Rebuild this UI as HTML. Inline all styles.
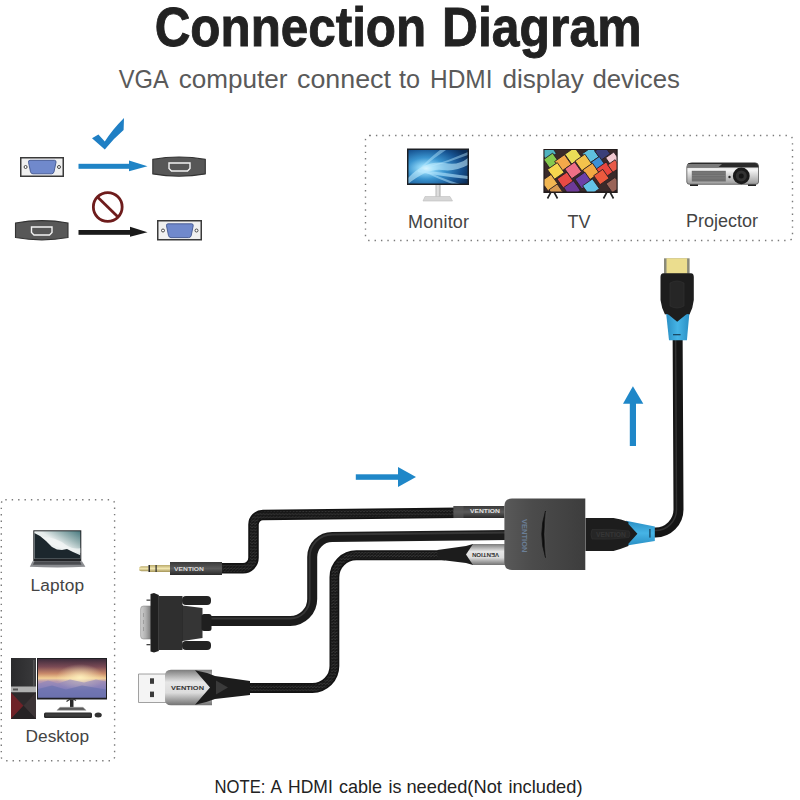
<!DOCTYPE html>
<html><head><meta charset="utf-8">
<style>
html,body{margin:0;padding:0;background:#fff;width:800px;height:800px;overflow:hidden}
svg{position:absolute;left:0;top:0;display:block}
text{font-family:"Liberation Sans",sans-serif}
</style></head>
<body>
<svg width="800" height="800" viewBox="0 0 800 800">
<defs>
  <linearGradient id="silver" x1="0" y1="0" x2="0" y2="1">
    <stop offset="0" stop-color="#8f8f8f"/><stop offset="0.3" stop-color="#d9d9d9"/><stop offset="0.7" stop-color="#c4c4c4"/><stop offset="1" stop-color="#7d7d7d"/>
  </linearGradient>
  <linearGradient id="gold" x1="0" y1="0" x2="0" y2="1">
    <stop offset="0" stop-color="#b9a96a"/><stop offset="0.5" stop-color="#f1e6b0"/><stop offset="1" stop-color="#a39356"/>
  </linearGradient>
</defs>
<rect width="800" height="800" fill="#fff"/>

<!-- Title -->
<g font-size="55" font-weight="bold" fill="#222" stroke="#222" stroke-width="0.9"><text x="154.7" y="46" textLength="271.5" lengthAdjust="spacingAndGlyphs">Connection</text><text x="442" y="46" textLength="199.5" lengthAdjust="spacingAndGlyphs">Diagram</text></g>
<g font-size="26" fill="#5a5a5a"><text x="118.75" y="87.5" textLength="50.00" lengthAdjust="spacingAndGlyphs">VGA</text><text x="178.75" y="87.5" textLength="108.75" lengthAdjust="spacingAndGlyphs">computer</text><text x="297.00" y="87.5" textLength="94.00" lengthAdjust="spacingAndGlyphs">connect</text><text x="399.00" y="87.5" textLength="21.00" lengthAdjust="spacingAndGlyphs">to</text><text x="430.00" y="87.5" textLength="62.50" lengthAdjust="spacingAndGlyphs">HDMI</text><text x="502.50" y="87.5" textLength="81.25" lengthAdjust="spacingAndGlyphs">display</text><text x="592.40" y="87.5" textLength="87.50" lengthAdjust="spacingAndGlyphs">devices</text></g>

<!-- Compatibility icons -->
<g id="compat">
  <!-- VGA top-left -->
  <rect x="20.75" y="157.75" width="42.5" height="18.5" fill="#f0f0f0" stroke="#3a3a3a" stroke-width="1.5"/>
  <path d="M30 160.3 H54.5 Q56.3 160.3 56 162.3 L54 171.8 Q53.5 173.8 51.5 173.8 H33 Q31 173.8 30.5 171.8 L28.5 162.3 Q28.2 160.3 30 160.3 Z" fill="#7089cc" stroke="#40558f" stroke-width="0.9"/>
  <circle cx="25.6" cy="167" r="1.5" fill="#fff" stroke="#333" stroke-width="0.9"/>
  <circle cx="59" cy="167" r="1.5" fill="#fff" stroke="#333" stroke-width="0.9"/>
  <!-- blue arrow -->
  <rect x="78.5" y="163.8" width="52" height="5" fill="#1f84c6"/>
  <path d="M129 160.6 L147.5 166.3 L129 171.3 Z" fill="#1f84c6"/>
  <!-- check -->
  <path d="M92 138.2 L98.4 134.4 L104.8 141.6 Q112 130 124 118 L123.6 130 Q113 139 104.8 149.5 Z" fill="#1f7fc4"/>
  <!-- HDMI top-right -->
  <path d="M152.8 159.4 Q179 154.6 205.3 159.4 V173.9 Q179 178.6 152.8 173.9 Z" fill="#575757" stroke="#333" stroke-width="1.1"/>
  <path d="M169 163 H190 V168.5 L187.5 171 H171.5 L169 168.5 Z" fill="none" stroke="#f3f3f3" stroke-width="1.4"/>

  <!-- no sign -->
  <circle cx="107.75" cy="207" r="14.4" fill="none" stroke="#6e1c1c" stroke-width="2.8"/>
  <line x1="97.5" y1="197" x2="118" y2="217" stroke="#6e1c1c" stroke-width="2.8"/>
  <!-- HDMI bottom-left -->
  <path d="M15.5 223 Q42 218.2 68 223 V237.5 Q42 242.2 15.5 237.5 Z" fill="#575757" stroke="#333" stroke-width="1.1"/>
  <path d="M31.5 227 H52 V232.5 L49.5 235 H34 L31.5 232.5 Z" fill="none" stroke="#f3f3f3" stroke-width="1.4"/>
  <!-- black arrow -->
  <rect x="78.5" y="230" width="53" height="4.8" fill="#1a1a1a"/>
  <path d="M130 226.8 L147.5 232.3 L130 236.8 Z" fill="#1a1a1a"/>
  <!-- VGA bottom-right -->
  <rect x="157.75" y="220.75" width="43.5" height="19" fill="#f0f0f0" stroke="#3a3a3a" stroke-width="1.5"/>
  <path d="M168 223.8 H191.7 Q193.5 223.8 193.2 225.8 L191.2 235.6 Q190.7 237.6 188.7 237.6 H171 Q169 237.6 168.5 235.6 L166.5 225.8 Q166.2 223.8 168 223.8 Z" fill="#7089cc" stroke="#40558f" stroke-width="0.9"/>
  <circle cx="163" cy="230.5" r="1.5" fill="#fff" stroke="#333" stroke-width="0.9"/>
  <circle cx="196.5" cy="230.5" r="1.5" fill="#fff" stroke="#333" stroke-width="0.9"/>
</g>

<!-- Devices dotted box -->
<rect x="365.5" y="135.5" width="427" height="105" rx="4" fill="none" stroke="#7a7a7a" stroke-width="1.4" stroke-dasharray="1.4 5"/>
<text x="408" y="227.6" font-size="18" fill="#444" textLength="61" lengthAdjust="spacing">Monitor</text>
<text x="567.5" y="228.2" font-size="18" fill="#444">TV</text>
<text x="686" y="226.6" font-size="18" fill="#444">Projector</text>

<!-- Computers dotted box -->
<rect x="1.3" y="499.75" width="113.3" height="261" rx="4" fill="none" stroke="#7a7a7a" stroke-width="1.4" stroke-dasharray="1.4 5"/>
<text x="30.5" y="591" font-size="17.3" fill="#444" textLength="53.5" lengthAdjust="spacing">Laptop</text>
<text x="25.6" y="741.5" font-size="17.3" fill="#444" textLength="63.5" lengthAdjust="spacing">Desktop</text>


<!-- Monitor -->
<defs>
  <radialGradient id="monscr" cx="0.3" cy="0.55" r="0.8">
    <stop offset="0" stop-color="#e6f7ff"/><stop offset="0.15" stop-color="#8fd6f7"/><stop offset="0.4" stop-color="#3a94cf"/><stop offset="0.75" stop-color="#165290"/><stop offset="1" stop-color="#0b2d58"/>
  </radialGradient>
  <clipPath id="monclip"><rect x="408.5" y="150" width="59" height="33.5"/></clipPath>
  <linearGradient id="standg" x1="0" y1="0" x2="1" y2="0"><stop offset="0" stop-color="#b8b8b8"/><stop offset="0.5" stop-color="#e8e8e8"/><stop offset="1" stop-color="#a8a8a8"/></linearGradient>
</defs>
<rect x="435.5" y="185" width="5" height="12" fill="url(#standg)"/>
<path d="M423 201 L425 196.5 H450 L452.5 201 Z" fill="#d6d6d6" stroke="#bdbdbd" stroke-width="0.6"/>
<rect x="407" y="148.5" width="62" height="36.5" fill="#1c1f24"/>
<rect x="408.5" y="150" width="59" height="33.5" fill="url(#monscr)"/>
<g clip-path="url(#monclip)">
  <path d="M408 178 Q425 160 445 163 Q458 166 468 158 V165 Q455 172 442 170 Q428 168 408 184 Z" fill="#c8f0ff" opacity="0.55"/>
  <path d="M418 170 Q440 172 468 176 V179 Q440 176 418 172 Z" fill="#b8e8ff" opacity="0.6"/>
  <path d="M420 168 Q440 178 460 184 H452 Q436 178 420 170 Z" fill="#b8e8ff" opacity="0.5"/>
  <path d="M422 166 Q432 156 440 150 H446 Q434 158 423 167 Z" fill="#b8e8ff" opacity="0.45"/>
  <path d="M430 166 Q450 160 468 152 V155 Q450 162 430 167 Z" fill="#b8e8ff" opacity="0.45"/>
</g>

<!-- TV -->
<defs><clipPath id="tvclip"><rect x="544.5" y="150" width="72" height="41.5"/></clipPath></defs>
<path d="M551 192 L547.5 198.5 M554 192 L557.5 198.5 M607 192 L603.5 198.5 M610 192 L613.5 198.5" stroke="#222" stroke-width="1.6"/>
<rect x="543.4" y="149" width="74.3" height="44" fill="#231c1c"/>
<g clip-path="url(#tvclip)">
  <rect x="544.5" y="150" width="72" height="41.5" fill="#3a2a2a"/>
  <g><rect x="-6.0" y="-6.0" width="12" height="12" fill="#4fb3bf" transform="translate(548 152) rotate(-35)" stroke="#2a1f22" stroke-width="0.8"/><rect x="-5.5" y="-5.5" width="11" height="11" fill="#86c94e" transform="translate(551.3 160.8) rotate(-35)" stroke="#2a1f22" stroke-width="0.8"/><rect x="-6.0" y="-6.0" width="12" height="12" fill="#e9dd57" transform="translate(573.2 155.75) rotate(-35)" stroke="#2a1f22" stroke-width="0.8"/><rect x="-6.0" y="-6.0" width="12" height="12" fill="#5fc0df" transform="translate(590.7 155.2) rotate(-35)" stroke="#2a1f22" stroke-width="0.8"/><rect x="-5.5" y="-5.5" width="11" height="11" fill="#3a3f78" transform="translate(602.5 152.5) rotate(-35)" stroke="#2a1f22" stroke-width="0.8"/><rect x="-5.0" y="-5.0" width="10" height="10" fill="#f2c9d0" transform="translate(612.6 159) rotate(-35)" stroke="#2a1f22" stroke-width="0.8"/><rect x="-6.0" y="-6.0" width="12" height="12" fill="#f3c24c" transform="translate(583.4 162.5) rotate(-35)" stroke="#2a1f22" stroke-width="0.8"/><rect x="-6.0" y="-6.0" width="12" height="12" fill="#f4a84a" transform="translate(563 163) rotate(-35)" stroke="#2a1f22" stroke-width="0.8"/><rect x="-5.0" y="-5.0" width="10" height="10" fill="#3d8fd6" transform="translate(598 163.5) rotate(-35)" stroke="#2a1f22" stroke-width="0.8"/><rect x="-6.0" y="-6.0" width="12" height="12" fill="#f6d64e" transform="translate(555.8 171) rotate(-35)" stroke="#2a1f22" stroke-width="0.8"/><rect x="-6.0" y="-6.0" width="12" height="12" fill="#ee6f86" transform="translate(573.2 170.4) rotate(-35)" stroke="#2a1f22" stroke-width="0.8"/><rect x="-6.0" y="-6.0" width="12" height="12" fill="#f2a843" transform="translate(591 171.5) rotate(-35)" stroke="#2a1f22" stroke-width="0.8"/><rect x="-6.0" y="-6.0" width="12" height="12" fill="#e8473f" transform="translate(604.7 170.4) rotate(-35)" stroke="#2a1f22" stroke-width="0.8"/><rect x="-4.5" y="-4.5" width="9" height="9" fill="#e85a48" transform="translate(614 166) rotate(-35)" stroke="#2a1f22" stroke-width="0.8"/><rect x="-6.0" y="-6.0" width="12" height="12" fill="#f1b652" transform="translate(549.6 182.75) rotate(-35)" stroke="#2a1f22" stroke-width="0.8"/><rect x="-6.0" y="-6.0" width="12" height="12" fill="#e84a45" transform="translate(565.4 180.5) rotate(-35)" stroke="#2a1f22" stroke-width="0.8"/><rect x="-6.0" y="-6.0" width="12" height="12" fill="#6b40a8" transform="translate(583.4 180.5) rotate(-35)" stroke="#2a1f22" stroke-width="0.8"/><rect x="-5.5" y="-5.5" width="11" height="11" fill="#ec5a3e" transform="translate(601.4 177) rotate(-35)" stroke="#2a1f22" stroke-width="0.8"/><rect x="-6.0" y="-6.0" width="12" height="12" fill="#63c3e8" transform="translate(591 187.25) rotate(-35)" stroke="#2a1f22" stroke-width="0.8"/><rect x="-6.0" y="-6.0" width="12" height="12" fill="#6d3a98" transform="translate(572 189) rotate(-35)" stroke="#2a1f22" stroke-width="0.8"/><rect x="-5.5" y="-5.5" width="11" height="11" fill="#9a6458" transform="translate(613.7 185) rotate(-35)" stroke="#2a1f22" stroke-width="0.8"/><rect x="-5.0" y="-5.0" width="10" height="10" fill="#d79a52" transform="translate(556 191) rotate(-35)" stroke="#2a1f22" stroke-width="0.8"/></g>
</g>

<!-- Projector -->
<defs>
  <linearGradient id="projf" x1="0" y1="0" x2="0" y2="1"><stop offset="0" stop-color="#c9c9c9"/><stop offset="0.35" stop-color="#f4f4f4"/><stop offset="1" stop-color="#9a9a9a"/></linearGradient>
</defs>
<rect x="690" y="182.5" width="8" height="3.5" fill="#222"/>
<rect x="748" y="182.5" width="8" height="3.5" fill="#222"/>
<path d="M689 164.5 Q689 162.8 692 162.8 H755 Q758.5 162.8 758.5 166 V182 Q758.5 184.3 755.5 184.3 H690 Q686.8 184.3 686.8 182 V167 Q686.8 164.5 689 164.5 Z" fill="url(#projf)" stroke="#555" stroke-width="0.8"/>
<path d="M689 163 H755 Q758.5 163 758.5 167.5 H687 Q687 163 689 163 Z" fill="#2a2a2a"/>
<path d="M687 167.5 H718 L722 164 H687 Z" fill="#7a7a7a"/>
<rect x="691.8" y="170.8" width="34" height="10.7" fill="#6f6f6f"/>
<g stroke="#8a8a8a" stroke-width="0.5"><line x1="692" y1="173" x2="725.6" y2="173"/><line x1="692" y1="175.5" x2="725.6" y2="175.5"/><line x1="692" y1="178" x2="725.6" y2="178"/></g>
<circle cx="729.5" cy="177" r="1.2" fill="#222"/>
<circle cx="741.3" cy="175.9" r="8.4" fill="#1a1a1a"/>
<circle cx="741.3" cy="175.9" r="5.5" fill="#333"/>
<circle cx="741.3" cy="175.9" r="2.5" fill="#151515"/>

<!-- Laptop -->
<defs>
  <linearGradient id="lapsky" x1="1" y1="0" x2="0.2" y2="0.8"><stop offset="0" stop-color="#4a7a80"/><stop offset="0.3" stop-color="#9bb5b6"/><stop offset="0.55" stop-color="#e6ecec"/><stop offset="1" stop-color="#f4f6f6"/></linearGradient>
  <clipPath id="lapclip"><rect x="34.3" y="531.3" width="46" height="27.5"/></clipPath>
</defs>
<rect x="33.3" y="530.3" width="48" height="31" fill="#222427"/>
<rect x="34.3" y="531.3" width="46" height="27.5" fill="url(#lapsky)"/>
<g clip-path="url(#lapclip)">
  <path d="M40 537 Q55 536 66 545 Q74 550 81 548 V553 Q70 552 60 548 Q50 544 40 540 Z" fill="#f4f6f6" opacity="0.7"/>
  <path d="M34.3 533 L40 536 L46 541 L52 547 L57 549.5 L62 550 L67 549 L73 552 L81 555.5 V559 H34.3 Z" fill="#1c272d"/>
</g>
<path d="M29.8 566.8 L32.5 561.2 H82 L85.4 566.8 Q57.5 568 29.8 566.8 Z" fill="#8a8c90"/>
<path d="M34.5 561.2 H80 L81.5 564.8 H33 Z" fill="#4a4c50"/>

<!-- Desktop -->
<defs>
  <linearGradient id="dsky" x1="0" y1="0" x2="0" y2="1"><stop offset="0" stop-color="#3e2c3c"/><stop offset="0.2" stop-color="#7a4a55"/><stop offset="0.38" stop-color="#c98a6a"/><stop offset="0.5" stop-color="#f2cf95"/><stop offset="0.58" stop-color="#b99aae"/><stop offset="0.78" stop-color="#7d7ab6"/><stop offset="1" stop-color="#5c64a4"/></linearGradient>
  <radialGradient id="dglow" cx="0.62" cy="0.48" r="0.35"><stop offset="0" stop-color="#fff2c0" stop-opacity="0.9"/><stop offset="1" stop-color="#fff2c0" stop-opacity="0"/></radialGradient>
  <linearGradient id="tower" x1="0" y1="0" x2="1" y2="0"><stop offset="0" stop-color="#2a2a2c"/><stop offset="1" stop-color="#3a3a3c"/></linearGradient>
</defs>
<rect x="11" y="658" width="25" height="61" fill="url(#tower)"/>
<rect x="33.5" y="660" width="0.8" height="26" fill="#666"/>
<rect x="11" y="686.5" width="25" height="6" fill="#b0b0b0"/>
<rect x="13" y="688.5" width="5" height="2" fill="#555"/>
<path d="M11 692.5 H36 V719 H11 Z" fill="#2e2a2c"/>
<path d="M11 692.5 L23.5 705.8 L11 719 Z" fill="#6e2228"/>
<path d="M36 692.5 L23.5 705.8 L36 719 Z" fill="#3c3436"/>
<path d="M11 719 L23.5 705.8 L36 719 Z" fill="#262224"/>
<rect x="37" y="658" width="70" height="41.5" fill="#1f1f22"/>
<rect x="38" y="659" width="68" height="38.5" fill="url(#dsky)"/>
<rect x="38" y="659" width="68" height="38.5" fill="url(#dglow)"/>
<path d="M38 684 L48 680.5 L58 683.5 L70 679.5 L84 682.5 L96 679.5 L106 681.5 V697.5 H38 Z" fill="#8a84bd" opacity="0.55"/>
<path d="M38 689 L52 685.5 L66 689.5 L82 685.5 L106 689.5 V697.5 H38 Z" fill="#6670ac" opacity="0.6"/>
<path d="M70 699.5 H73.5 V707.5 H70 Z" fill="#2a2a2a"/>
<path d="M66.5 701.5 Q71.5 697.5 76 700.5" fill="none" stroke="#3a3a3a" stroke-width="1.2"/>
<path d="M57 710.3 L60 707.3 H83 L86 710.3 Z" fill="#5a5a5a" stroke="#a0a0a0" stroke-width="0.6"/>
<rect x="44" y="712.5" width="48" height="5.5" rx="1.5" fill="#2a2a2a"/>
<rect x="45.5" y="713.5" width="45" height="3" fill="#3c3c3c"/>
<ellipse cx="98.2" cy="715" rx="3.6" ry="2.5" fill="#333"/>


<!-- Blue arrows -->
<rect x="355.8" y="474.3" width="43" height="5.5" fill="#1f87c8"/>
<path d="M398 466.9 L416 477 L398 487.1 Z" fill="#1f87c8"/>
<rect x="629.8" y="402" width="6.2" height="44" fill="#1f87c8"/>
<path d="M623 403.8 L632.9 386.3 L643.3 403.8 Z" fill="#1f87c8"/>

<!-- Cables -->
<defs>
  <pattern id="braid" width="3.2" height="3.2" patternUnits="userSpaceOnUse">
    <rect width="3.2" height="3.2" fill="#171717"/>
    <path d="M0.4 2.4 L1.6 1.2 M2 3.2 L3.2 2" stroke="#545454" stroke-width="0.8" fill="none"/>
  </pattern>
  <linearGradient id="hsil" x1="0" y1="0" x2="0" y2="1"><stop offset="0" stop-color="#7c7c7c"/><stop offset="0.35" stop-color="#e6e6e6"/><stop offset="0.65" stop-color="#dcdcdc"/><stop offset="1" stop-color="#727272"/></linearGradient>
  <linearGradient id="ferr" x1="0" y1="0" x2="0" y2="1"><stop offset="0" stop-color="#3a3a3a"/><stop offset="0.5" stop-color="#5a5a5a"/><stop offset="1" stop-color="#2a2a2a"/></linearGradient>
  <linearGradient id="boxg" x1="0" y1="0" x2="1" y2="0"><stop offset="0" stop-color="#595959"/><stop offset="0.35" stop-color="#4b4b4b"/><stop offset="1" stop-color="#3d3d3d"/></linearGradient>
  <linearGradient id="blueg" x1="0" y1="0" x2="1" y2="0"><stop offset="0" stop-color="#2a8fc4"/><stop offset="0.5" stop-color="#46b4e6"/><stop offset="1" stop-color="#2a8fc4"/></linearGradient>
  <linearGradient id="blueh" x1="0" y1="0" x2="0" y2="1"><stop offset="0" stop-color="#2a8fc4"/><stop offset="0.5" stop-color="#46b4e6"/><stop offset="1" stop-color="#2a8fc4"/></linearGradient>
</defs>

<!-- HDMI cable -->
<path d="M650 532.5 H655.5 A23 23 0 0 0 678.5 509.5 L677.6 330" fill="none" stroke="#151515" stroke-width="10"/>
<path d="M650 530.5 H655.5 A21 21 0 0 0 676.5 509.5 L675.6 330" fill="none" stroke="#3d3d3d" stroke-width="1.5" opacity="0.7"/>

<!-- Audio cable -->
<path id="pAud" d="M218 568.3 H243 A10.5 10.5 0 0 0 253.5 557.8 V524.5 A9.5 9.5 0 0 1 263 515 L458 512.8" fill="none" stroke="#131313" stroke-width="10.5"/>
<path d="M218 568.3 H243 A10.5 10.5 0 0 0 253.5 557.8 V524.5 A9.5 9.5 0 0 1 263 515 L458 512.8" fill="none" stroke="url(#braid)" stroke-width="7"/>

<!-- VGA cable -->
<path d="M205 621 H290.2 A22 22 0 0 0 312.2 599 V557 A20 20 0 0 1 332.2 537 L508 535" fill="none" stroke="#1b1b1b" stroke-width="10"/>
<path d="M205 618.5 H290.2 A19.5 19.5 0 0 0 309.7 599 V557 A22.5 22.5 0 0 1 332.2 534.5 L508 532.5" fill="none" stroke="#3d3d3d" stroke-width="1.8" opacity="0.8"/>

<!-- USB cable -->
<path d="M245 688 H312.4 A22 22 0 0 0 334.4 666 V577.25 A22 22 0 0 1 356.4 555.25 H445" fill="none" stroke="#131313" stroke-width="9.8"/>
<path d="M245 688 H312.4 A22 22 0 0 0 334.4 666 V577.25 A22 22 0 0 1 356.4 555.25 H445" fill="none" stroke="url(#braid)" stroke-width="6.5"/>

<!-- Audio jack -->
<path d="M148.8 566.2 H141.5 Q139 566.2 139 568.7 Q139 571.2 141.5 571.2 H148.8 Z" fill="url(#gold)"/>
<rect x="148.8" y="565" width="21.5" height="7" fill="url(#gold)"/>
<rect x="148.5" y="565" width="1.5" height="7" fill="#2a2a2a"/>
<rect x="155.5" y="565" width="1.2" height="7" fill="#2a2a2a"/>
<rect x="170" y="562" width="52" height="13" fill="url(#ferr)"/>
<text x="174" y="570.6" font-size="6" font-weight="bold" fill="#d8d8d8" textLength="30" lengthAdjust="spacingAndGlyphs">VENTION</text>

<!-- VGA connector -->
<defs>
  <linearGradient id="shell" x1="0" y1="0" x2="1" y2="0"><stop offset="0" stop-color="#d0d0d0"/><stop offset="0.5" stop-color="#b0b0b0"/><stop offset="1" stop-color="#7a7a7a"/></linearGradient>
</defs>
<path d="M143.5 606 H151 V639 H143.5 Q140.6 639 140.6 636 V609 Q140.6 606 143.5 606 Z" fill="url(#shell)" stroke="#7a7a7a" stroke-width="0.5"/>
<g stroke="#888" stroke-width="0.6"><line x1="143.5" y1="613" x2="143.5" y2="617"/><line x1="143.5" y1="620" x2="143.5" y2="624"/><line x1="143.5" y1="627" x2="143.5" y2="631"/></g>
<rect x="146.5" y="599.5" width="4" height="1.3" fill="#444"/>
<rect x="146.5" y="644" width="4" height="1.3" fill="#444"/>
<path d="M150.5 594 L154 593 L158.8 595 V651 L154 652.5 L150.5 651.5 Z" fill="#202020"/>
<rect x="182" y="596" width="29" height="9" rx="4" fill="#232323"/>
<rect x="182" y="641" width="29" height="9" rx="4" fill="#232323"/>
<path d="M158.5 596 H182.5 V650 H158.5 Z" fill="#2f2f2f"/>
<path d="M182.5 605.5 L202.5 608 V638 L182.5 641 Z" fill="#353535"/>
<line x1="182.5" y1="605" x2="182.5" y2="641" stroke="#1e1e1e" stroke-width="0.8"/>
<rect x="201.5" y="614" width="10" height="17" rx="2.5" fill="#1f1f1f"/>

<!-- USB connector -->
<path d="M138.5 674 H166 V702.5 H138.5 Z" fill="#f4f4f4" stroke="#8a8a8a" stroke-width="0.8"/>
<rect x="150" y="678.3" width="4" height="5.5" fill="#3a3a3a"/>
<rect x="150" y="691.6" width="4" height="5.5" fill="#3a3a3a"/>
<path d="M171 669.7 H212 V705.3 H171 Q165 705.3 165 699 V676 Q165 669.7 171 669.7 Z" fill="url(#hsil)"/>
<path d="M195 670.3 Q205 672 215 676 L250 681 V695 L215 699 Q205 703 195 704.8 L210 687.5 Z" fill="#1c1c1c"/>
<path d="M216 680.5 L228 687.5 L216 694.5 Z" fill="#3a3a3a"/>
<text x="171" y="690.3" font-size="5.5" font-weight="bold" fill="#333" textLength="33" lengthAdjust="spacingAndGlyphs">VENTION</text>

<!-- Audio ferrule at box -->
<rect x="453.5" y="506" width="51" height="12" fill="url(#ferr)"/><rect x="453.5" y="506" width="10" height="12" fill="#5a5a5a" opacity="0.6"/>
<text x="470" y="513.3" font-size="5" font-weight="bold" fill="#e0e0e0" textLength="30" lengthAdjust="spacingAndGlyphs">VENTION</text>

<!-- USB housing at box -->
<path d="M437.5 550 L466 546 L473 544 H504.5 V565 H473 L466 563 L437.5 559.5 Z" fill="#1c1c1c"/>
<path d="M473 544 H504.5 V565 H473 L466 554.5 Z" fill="url(#hsil)"/>
<text transform="translate(499 553.2) rotate(180)" font-size="5" font-weight="bold" fill="#333" textLength="27" lengthAdjust="spacingAndGlyphs">VENTION</text>

<!-- Converter box -->
<path d="M512 498.5 H585.3 V570 H512 Q504.4 570 504.4 562.5 V506 Q504.4 498.5 512 498.5 Z" fill="url(#boxg)"/>
<path d="M545.5 511 Q538 534 545.5 557.5 Q542.5 534 545.5 511 Z" fill="#0c0c0c" stroke="#141414" stroke-width="0.8"/><path d="M546 512 Q543.5 534 546 556.5" fill="none" stroke="#5a5a5a" stroke-width="0.8" opacity="0.6"/>
<text transform="translate(521.5 519) rotate(90)" font-size="8" font-weight="bold" fill="#6b7f98" textLength="33.5" lengthAdjust="spacingAndGlyphs">VENTION</text>

<!-- HDMI connector at box -->
<path d="M626 520.8 L654.8 526.4 V541 L627 545.5 Z" fill="url(#blueh)"/>
<path d="M585.5 518 H613.5 Q621 519 628.4 521.9 L628.4 524 L637.4 533.7 L628.4 543.8 V546 Q621 549 613.5 551 H585.5 Z" fill="#1d1d1d"/>
<path d="M592 529.5 Q610 528.5 629 531 Q631 534.2 629 537.5 Q610 540 592 539 Q590 534.2 592 529.5 Z" fill="#262626" stroke="#333" stroke-width="0.6"/>
<text x="596" y="536.8" font-size="6.5" font-weight="bold" fill="#363636" textLength="30" lengthAdjust="spacingAndGlyphs">VENTION</text>
<rect x="649.2" y="529" width="1.4" height="8.6" fill="#1a4a66"/>

<!-- HDMI connector top -->
<rect x="664" y="258.3" width="25.6" height="15.5" fill="#8a8a7a"/>
<rect x="666.5" y="258.3" width="20.6" height="15.5" fill="#ebdd8e"/>
<path d="M666 312 H689.5 L686.9 340.3 H669 Z" fill="url(#blueg)"/>
<path d="M663.5 273.2 H691 Q693.8 273.2 693.8 277 V300 Q693 308 689.5 314.5 Q687.5 313.5 685.5 315 L677.2 321.8 L669 315 Q667 313.5 665 314.5 Q661.5 308 660.5 300 V277 Q660.5 273.2 663.5 273.2 Z" fill="#1d1d1d"/>
<path d="M670 283 Q677 279 684 283 V306 Q677 310 670 306 Z" fill="#262626" stroke="#333" stroke-width="0.6"/>
<rect x="673" y="334" width="7.6" height="1.3" fill="#1a4a66"/>

<!-- Note -->
<g font-size="19" fill="#222"><text x="214.60" y="792.5" textLength="50.80" lengthAdjust="spacingAndGlyphs">NOTE:</text><text x="270.60" y="792.5" textLength="11.40" lengthAdjust="spacingAndGlyphs">A</text><text x="288.10" y="792.5" textLength="44.65" lengthAdjust="spacingAndGlyphs">HDMI</text><text x="338.90" y="792.5" textLength="43.10" lengthAdjust="spacingAndGlyphs">cable</text><text x="388.50" y="792.5" textLength="13.00" lengthAdjust="spacingAndGlyphs">is</text><text x="406.40" y="792.5" textLength="95.50" lengthAdjust="spacingAndGlyphs">needed(Not</text><text x="508.40" y="792.5" textLength="74.10" lengthAdjust="spacingAndGlyphs">included)</text></g>

</svg>
</body></html>
